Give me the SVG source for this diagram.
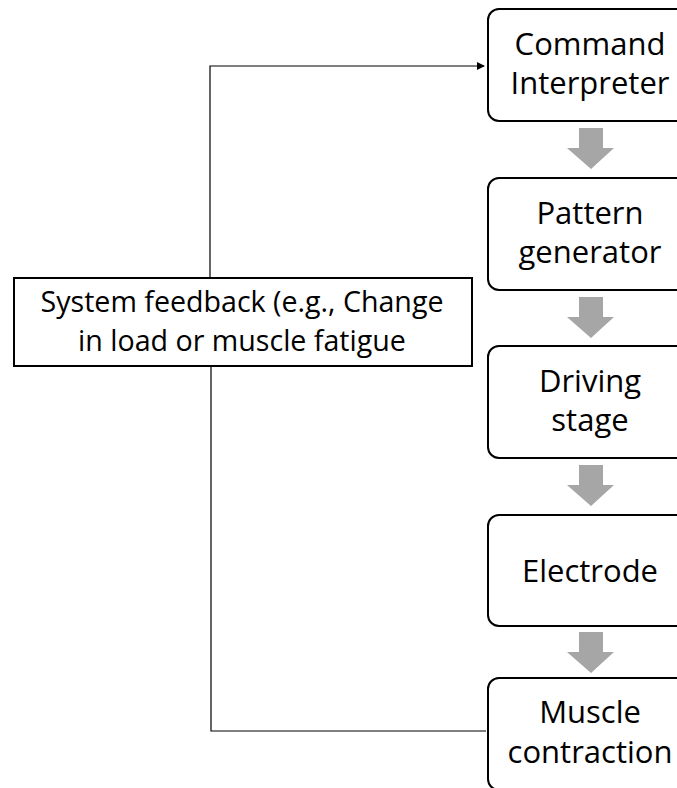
<svg xmlns="http://www.w3.org/2000/svg" width="677" height="788" viewBox="0 0 677 788">
<style>
.box{fill:#fff;stroke:#000;stroke-width:2}
.t{font-family:"Open Sans","Liberation Sans",sans-serif;font-size:31px;fill:#000;text-anchor:middle}
.f{font-family:"Open Sans","Liberation Sans",sans-serif;font-size:28.6px;fill:#000;text-anchor:middle}
.blk{fill:#a6a6a6}
.ln{fill:none;stroke:#000;stroke-width:1.2}
</style>
<defs>
<marker id="ah" markerWidth="8" markerHeight="8" refX="7" refY="4" orient="auto" markerUnits="userSpaceOnUse">
<path d="M0,0 L8,4 L0,8 Z" fill="#000"/>
</marker>
</defs>
<rect width="677" height="788" fill="#fff"/>
<g id="connectors">
<path class="ln" d="M210,278 V66 H484" marker-end="url(#ah)"/>
<path class="ln" d="M211,366 V731 H486"/>
<path class="blk" d="M579,128 H603 V148 H614 L591,169 L567,148 H579 Z"/>
<path class="blk" d="M579,297 H603 V317 H614 L591,338 L567,317 H579 Z"/>
<path class="blk" d="M579,465 H603 V485 H614 L591,506 L567,485 H579 Z"/>
<path class="blk" d="M579,632 H603 V652 H614 L591,673 L567,652 H579 Z"/>
</g>
<g id="command">
<rect class="box" x="488" y="9" width="205" height="112" rx="11"/>
<text class="t" x="590" y="55">Command</text>
<text class="t" x="590" y="94">Interpreter</text>
</g>
<g id="pattern">
<rect class="box" x="488" y="178" width="205" height="112" rx="11"/>
<text class="t" x="590" y="224">Pattern</text>
<text class="t" x="590" y="263">generator</text>
</g>
<g id="driving">
<rect class="box" x="488" y="346" width="205" height="112" rx="11"/>
<text class="t" x="590" y="392">Driving</text>
<text class="t" x="590" y="431">stage</text>
</g>
<g id="electrode">
<rect class="box" x="488" y="515" width="205" height="111" rx="11"/>
<text class="t" x="590" y="582">Electrode</text>
</g>
<g id="muscle">
<rect class="box" x="488" y="678" width="205" height="112" rx="11"/>
<text class="t" x="590" y="723">Muscle</text>
<text class="t" x="590" y="763">contraction</text>
</g>
<g id="feedback">
<rect class="box" x="14" y="278" width="458" height="88" stroke-width="2.4"/>
<text class="f" x="242" y="312">System feedback (e.g., Change</text>
<text class="f" x="242" y="351">in load or muscle fatigue</text>
</g>
</svg>
